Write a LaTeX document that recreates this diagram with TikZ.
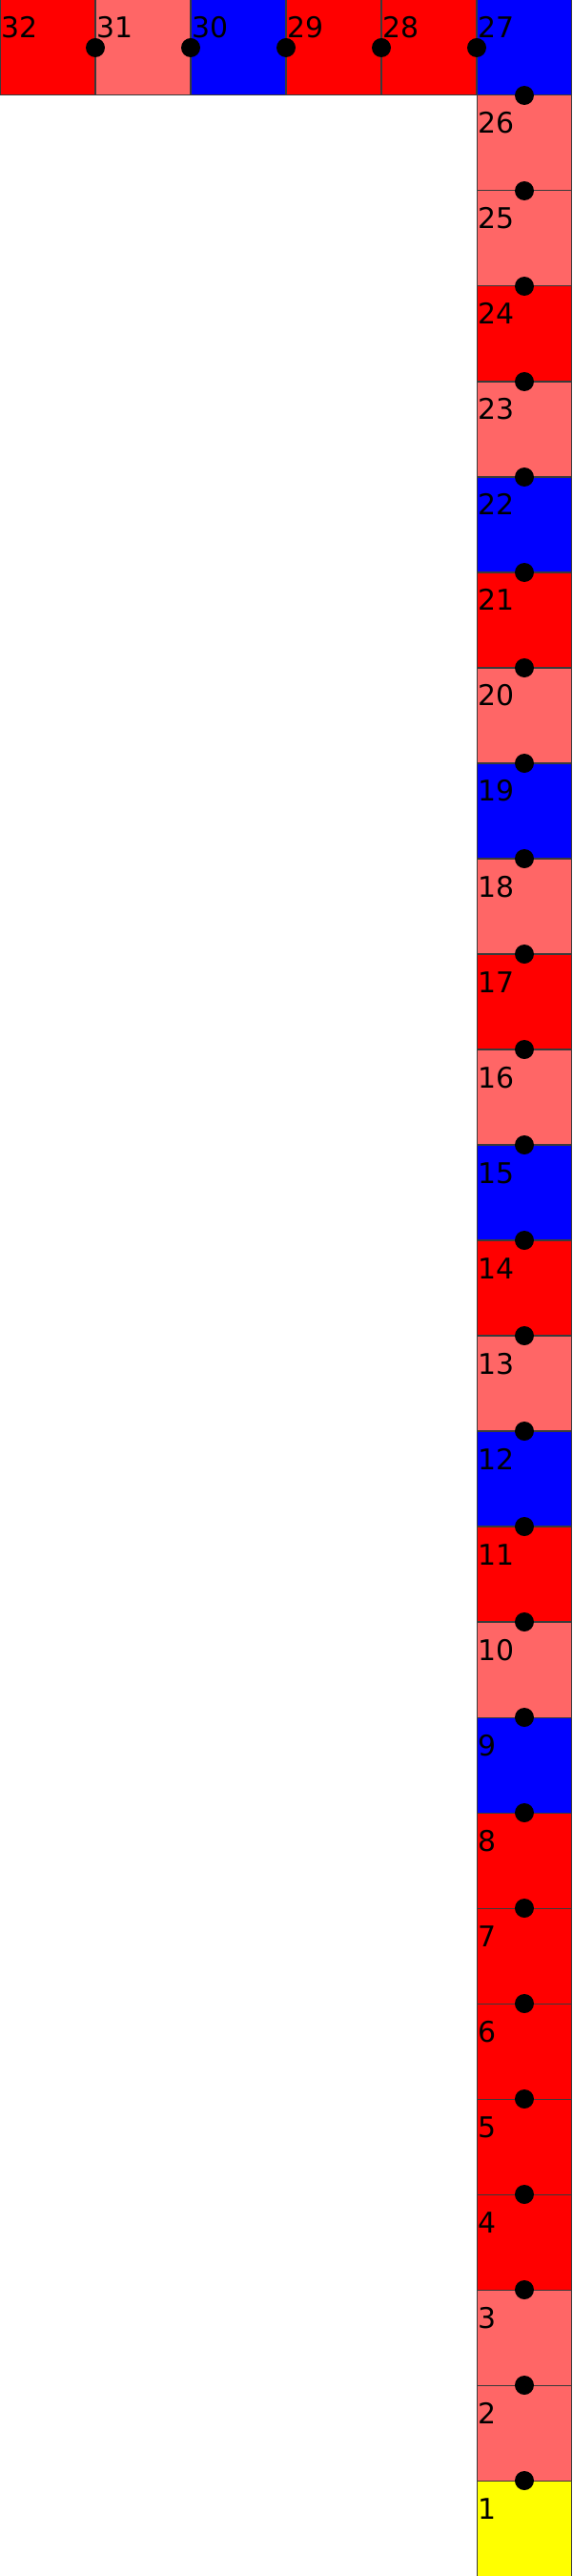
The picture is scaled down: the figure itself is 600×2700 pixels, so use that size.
\documentclass[tikz,border=0pt]{standalone}
\usepackage{fontspec}
\setmainfont{DejaVu Sans}
\definecolor{cRed}{HTML}{FF0000}
\definecolor{cLight}{HTML}{FF6666}
\definecolor{cBlue}{HTML}{0000FF}
\definecolor{cYellow}{HTML}{FFFF00}
\definecolor{cBorder}{HTML}{3A3A3A}
\begin{document}
\begin{tikzpicture}[x=0.02cm,y=-0.02cm,
  cell/.style={draw=cBorder, line width=0.02cm, minimum size=2cm, inner sep=0pt, outer sep=0pt, anchor=north west},
  lbl/.style={font=\fontsize{17}{17}\selectfont, anchor=base west, inner sep=0pt},
  dot/.style={fill=black, circle, minimum size=0.4cm, inner sep=0pt}]
\useasboundingbox (0,0) rectangle (600,2700);
% top row
\foreach \n/\c in {32/cRed,31/cLight,30/cBlue,29/cRed,28/cRed,27/cBlue}
  \node[cell, fill=\c] (s\n) at ({(32-\n)*100},0) {};
% column
\foreach \n/\c in {26/cLight,25/cLight,24/cRed,23/cLight,22/cBlue,21/cRed,20/cLight,19/cBlue,18/cLight,17/cRed,16/cLight,15/cBlue,14/cRed,13/cLight,12/cBlue,11/cRed,10/cLight,9/cBlue,8/cRed,7/cRed,6/cRed,5/cRed,4/cRed,3/cLight,2/cLight,1/cYellow}
  \node[cell, fill=\c] (s\n) at (500,{(27-\n)*100}) {};
% labels
\foreach \n in {1,...,32}
  \node[lbl] (l\n) at ([xshift=0.02cm,yshift=-0.8cm]s\n.north west) {\n};
% dots
\foreach \n in {27,...,31}
  \node[dot] (d\n) at (s\n.west) {};
\foreach \n in {1,...,26}
  \node[dot] (d\n) at (s\n.north) {};
\end{tikzpicture}
\end{document}
